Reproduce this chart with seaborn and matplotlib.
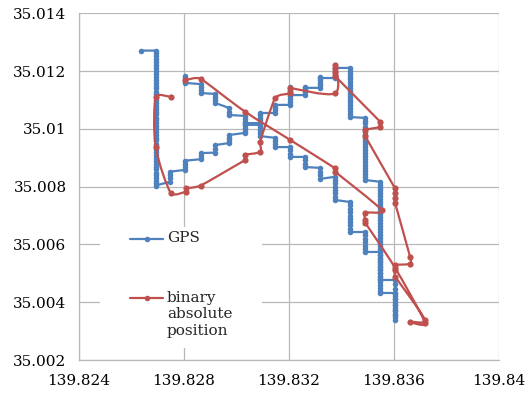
import matplotlib
matplotlib.use("Agg")
import numpy as np
import pandas as pd
import matplotlib.pyplot as plt
import seaborn as sns
from matplotlib.path import Path
from matplotlib.patches import PathPatch, Rectangle
from matplotlib.lines import Line2D

# GPS track, logged as runs of constant longitude (lon, latitudes in that run)
gps_runs = [
    (139.82635, [35.01271]),
    (139.82692, [35.01271, 35.01262, 35.01251, 35.01241, 35.01232, 35.01220, 35.01211, 35.01199,
                 35.01190, 35.01180, 35.01169, 35.01160, 35.01149, 35.01140, 35.01129, 35.01121,
                 35.01110, 35.01100, 35.01089, 35.01080, 35.01070, 35.01059, 35.01050, 35.01039,
                 35.01030, 35.01019, 35.01010, 35.00999, 35.00990, 35.00979, 35.00970, 35.00960,
                 35.00949, 35.00940, 35.00929, 35.00920, 35.00909, 35.00900, 35.00889, 35.00880,
                 35.00869, 35.00860, 35.00849, 35.00840, 35.00829, 35.00820, 35.00811, 35.00804]),
    (139.82747, [35.00817, 35.00829, 35.00841, 35.00852]),
    (139.82804, [35.00858, 35.00869, 35.00880, 35.00890]),
    (139.82864, [35.00895, 35.00906, 35.00916]),
    (139.82918, [35.00918, 35.00931, 35.00944]),
    (139.82973, [35.00951, 35.00960, 35.00970, 35.00979]),
    (139.83032, [35.00986, 35.00994, 35.01003, 35.01012, 35.01020]),
    (139.83090, [35.01020, 35.01029, 35.01038, 35.01047, 35.01055]),
    (139.83147, [35.01055, 35.01064, 35.01073, 35.01083]),
    (139.83204, [35.01083, 35.01093, 35.01104, 35.01115, 35.01126, 35.01136, 35.01145, 35.01131, 35.01117]),
    (139.83261, [35.01117, 35.01127, 35.01136, 35.01145, 35.01142]),
    (139.83318, [35.01142, 35.01151, 35.01160, 35.01169, 35.01180, 35.01176]),
    (139.83375, [35.01176, 35.01185, 35.01194, 35.01203, 35.01211]),
    (139.83432, [35.01211, 35.01202, 35.01191, 35.01181, 35.01172, 35.01161, 35.01151, 35.01142,
                 35.01131, 35.01122, 35.01111, 35.01101, 35.01092, 35.01081, 35.01071, 35.01062,
                 35.01051, 35.01041]),
    (139.83490, [35.01038, 35.01028, 35.01019, 35.01008, 35.00998, 35.00988, 35.00978, 35.00967,
                 35.00957, 35.00947, 35.00937, 35.00927, 35.00916, 35.00906, 35.00896, 35.00886,
                 35.00876, 35.00865, 35.00855, 35.00845, 35.00834, 35.00823]),
    (139.83547, [35.00817, 35.00807, 35.00797, 35.00787, 35.00777, 35.00766, 35.00756, 35.00746,
                 35.00736, 35.00726, 35.00716, 35.00705, 35.00695, 35.00685, 35.00675, 35.00664,
                 35.00654, 35.00644, 35.00634, 35.00624, 35.00613, 35.00603, 35.00593, 35.00583,
                 35.00573, 35.00563, 35.00552, 35.00542, 35.00532, 35.00522, 35.00511, 35.00501,
                 35.00491, 35.00481, 35.00470, 35.00460, 35.00450, 35.00440, 35.00432]),
    (139.83604, [35.00432, 35.00421, 35.00411, 35.00400, 35.00390, 35.00380, 35.00369, 35.00359,
                 35.00349, 35.00339, 35.00356, 35.00374, 35.00392, 35.00410, 35.00428, 35.00446,
                 35.00462, 35.00477]),
    (139.83547, [35.00477, 35.00489, 35.00501, 35.00514, 35.00526, 35.00538, 35.00550, 35.00562, 35.00574]),
    (139.83490, [35.00574, 35.00585, 35.00596, 35.00608, 35.00620, 35.00631, 35.00643]),
    (139.83432, [35.00643, 35.00654, 35.00666, 35.00677, 35.00689, 35.00700, 35.00712, 35.00724,
                 35.00735, 35.00747]),
    (139.83375, [35.00754, 35.00765, 35.00777, 35.00788, 35.00800, 35.00811, 35.00823, 35.00834]),
    (139.83318, [35.00827, 35.00839, 35.00852, 35.00865]),
    (139.83261, [35.00868, 35.00880, 35.00891, 35.00903]),
    (139.83204, [35.00903, 35.00914, 35.00926, 35.00937]),
    (139.83147, [35.00937, 35.00948, 35.00959, 35.00969]),
    (139.83090, [35.00975, 35.00985, 35.00995, 35.01005, 35.01014]),
    (139.83032, [35.01014, 35.01025, 35.01035, 35.01045]),
    (139.82973, [35.01048, 35.01060, 35.01072]),
    (139.82918, [35.01090, 35.01100, 35.01111, 35.01121]),
    (139.82864, [35.01124, 35.01134, 35.01145, 35.01155]),
    (139.82804, [35.01159, 35.01167, 35.01175, 35.01183]),
]

# binary absolute position fixes, in time order
bin_lon = [139.82749, 139.82692, 139.82692, 139.82749, 139.82806, 139.82806, 139.82864, 139.83032,
           139.83032, 139.83090, 139.83090, 139.83147, 139.83204, 139.83204, 139.83375, 139.83375,
           139.83375, 139.83375, 139.83375, 139.83547, 139.83547, 139.83490, 139.83490, 139.83604,
           139.83604, 139.83604, 139.83604, 139.83661, 139.83661, 139.83604, 139.83604, 139.83604,
           139.83718, 139.83661, 139.83718, 139.83604, 139.83490, 139.83490, 139.83490, 139.83553,
           139.83375, 139.83375, 139.83204, 139.83032, 139.82864, 139.82804]
bin_lat = [35.01111, 35.01109, 35.00938, 35.00779, 35.00783, 35.00794, 35.00804, 35.00892,
           35.00910, 35.00921, 35.00956, 35.01106, 35.01123, 35.01142, 35.01123, 35.01221,
           35.01211, 35.01197, 35.01183, 35.01025, 35.01007, 35.00996, 35.00975, 35.00794,
           35.00778, 35.00761, 35.00744, 35.00558, 35.00533, 35.00529, 35.00512, 35.00489,
           35.00339, 35.00333, 35.00329, 35.00519, 35.00675, 35.00685, 35.00710, 35.00719,
           35.00852, 35.00864, 35.00962, 35.01060, 35.01173, 35.01169]

x_ticks = [139.824, 139.828, 139.832, 139.836, 139.84]
y_ticks = [35.002, 35.004, 35.006, 35.008, 35.01, 35.012, 35.014]
series_names = ["GPS", "binary\nabsolute\nposition"]

BLUE = "#4F81BD"
RED = "#C0504D"
GRID = "#b8b8b8"

gps = pd.DataFrame(
    [(lon, lat) for lon, lats in gps_runs for lat in lats], columns=["lon", "lat"]
)
binpos = pd.DataFrame({"lon": bin_lon, "lat": bin_lat})


def smooth_path(xs, ys):
    # smoothed line like Excel: cubic Beziers with Catmull-Rom tangents,
    # tangent length capped by the shorter neighbouring segment to avoid loops
    pts = np.column_stack([xs, ys])
    n = len(pts)
    tangents = []
    for i in range(n):
        prev_p = pts[max(i - 1, 0)]
        next_p = pts[min(i + 1, n - 1)]
        t = (next_p - prev_p) / 2
        seg = [np.linalg.norm(pts[i] - prev_p), np.linalg.norm(next_p - pts[i])]
        seg = [s for s in seg if s > 0]
        limit = min(seg) if seg else 0
        norm = np.linalg.norm(t)
        if norm > limit and norm > 0:
            t = t * limit / norm
        tangents.append(t)
    verts = [pts[0]]
    codes = [Path.MOVETO]
    for i in range(n - 1):
        verts += [pts[i] + tangents[i] / 3, pts[i + 1] - tangents[i + 1] / 3, pts[i + 1]]
        codes += [Path.CURVE4] * 3
    return Path(verts, codes)


sns.set_style("white")
plt.rcParams["font.family"] = ["DejaVu Serif"]

fig = plt.figure(figsize=(5.25, 3.95), dpi=100)
ax = fig.add_axes([0.1505, 0.0886, 0.8, 0.8777])

sns.lineplot(data=gps, x="lon", y="lat", sort=False, estimator=None, color=BLUE,
             linewidth=1.6, marker="o", markersize=4, markeredgewidth=0, ax=ax,
             legend=False, zorder=3)

ax.add_patch(PathPatch(smooth_path(binpos["lon"], binpos["lat"]), facecolor="none",
                       edgecolor=RED, linewidth=1.6, zorder=4))
sns.scatterplot(data=binpos, x="lon", y="lat", color=RED, s=20, linewidth=0, ax=ax,
                legend=False, zorder=5)

ax.set_xlim(x_ticks[0], x_ticks[-1])
ax.set_ylim(y_ticks[0], y_ticks[-1])
ax.set_xticks(x_ticks)
ax.set_yticks(y_ticks)
ax.set_xticklabels([f"{v:.3f}".rstrip("0") for v in x_ticks])
ax.set_yticklabels([f"{v:.3f}".rstrip("0") for v in y_ticks])
ax.set_xlabel("")
ax.set_ylabel("")

ax.set_axisbelow(True)
ax.grid(True, color=GRID, linewidth=0.9)
for side in ["top", "right"]:
    ax.spines[side].set_visible(False)
for side in ["left", "bottom"]:
    ax.spines[side].set_color(GRID)
    ax.spines[side].set_linewidth(0.9)
ax.tick_params(axis="both", direction="out", length=5, width=0.9, color=GRID,
               labelsize=11, labelcolor="black")
ax.tick_params(axis="y", pad=4)
ax.tick_params(axis="x", pad=5)

# legend box sitting inside the plot area, Excel style
ax.add_patch(Rectangle((0.05, 0.035), 0.386, 0.349, transform=ax.transAxes,
                       facecolor="white", edgecolor="none", zorder=2))
for (y, color, name) in [(0.349, BLUE, series_names[0]), (0.178, RED, series_names[1])]:
    ax.add_line(Line2D([0.121, 0.2], [y, y], transform=ax.transAxes, color=color,
                       linewidth=1.6, zorder=6))
    ax.add_line(Line2D([0.161], [y], transform=ax.transAxes, color=color, marker="o",
                       markersize=4, markeredgewidth=0, zorder=6))
    ax.text(0.209, y + 0.022, name, transform=ax.transAxes, fontsize=11, va="top",
            ha="left", linespacing=1.25, zorder=6)

fig.savefig("out.png", dpi=100)
